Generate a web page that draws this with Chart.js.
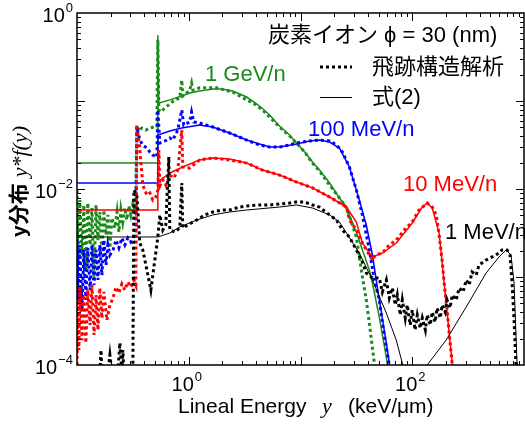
<!DOCTYPE html>
<html>
<head>
<meta charset="utf-8">
<script src="https://cdn.jsdelivr.net/npm/chart.js@4"></script>
<style>
  body { margin: 0; background: #fff; }
  #wrap { width: 525px; height: 427px; position: relative; }
</style>
</head>
<body>
<div id="wrap"><canvas id="chart"></canvas></div>
<script>
// 1 GeV/n
const gevFitX = [0.1, 0.529, 0.529, 0.54, 0.677, 0.866, 1.02, 1.25, 1.64, 1.97, 2.47, 3.30, 4.30, 5.29, 6.49, 7.98, 9.21, 10.9, 12.8, 14.8, 18.2, 22.3, 25.8, 27.4, 31.6, 35.8, 41.3, 44.0, 50.7, 58.6, 61.1];
const gevFitY = [0.0197, 0.0197, 0.562, 0.0949, 0.103, 0.114, 0.123, 0.130, 0.137, 0.137, 0.130, 0.111, 0.0877, 0.0693, 0.0520, 0.0411, 0.0333, 0.0263, 0.0203, 0.0164, 0.0117, 0.00791, 0.00624, 0.00507, 0.00325, 0.00203, 0.00120, 0.000855, 0.000351, 0.000123, 0.0000832];
const gevSimX = [0.1, 0.102, 0.106, 0.111, 0.115, 0.120, 0.125, 0.131, 0.136, 0.142, 0.148, 0.154, 0.160, 0.167, 0.174, 0.182, 0.189, 0.197, 0.205, 0.218, 0.228, 0.237, 0.247, 0.257, 0.268, 0.279, 0.291, 0.303, 0.316, 0.330, 0.336, 0.343, 0.358, 0.380, 0.413, 0.449, 0.487, 0.518, 0.529, 0.540, 0.562, 0.610, 0.677, 0.750, 0.831, 0.866, 0.884, 0.980, 1.02, 1.06, 1.09, 1.25, 1.54, 1.78, 2.10, 2.47, 2.85, 3.30, 3.88, 4.58, 5.29, 6.49, 7.98, 9.21, 10.9, 12.8, 14.8, 18.2, 22.3, 25.8, 28.5, 31.6, 35.8, 38.8, 41.3, 45.8, 46.7];
const gevSimY = [0.00975, 0.00137, 0.0075, 0.00178, 0.00658, 0.0012, 0.00693, 0.00231, 0.00608, 0.000925, 0.00658, 0.00263, 0.00548, 0.00178, 0.00577, 0.003, 0.00507, 0.00214, 0.00468, 0.00361, 0.00548, 0.00325, 0.00577, 0.00422, 0.00608, 0.00445, 0.00641, 0.00507, 0.00676, 0.00577, 0.0075, 0.0534, 0.0456, 0.0493, 0.0468, 0.0493, 0.0506, 0.0506, 0.493, 0.079, 0.075, 0.0832, 0.0925, 0.103, 0.108, 0.173, 0.114, 0.127, 0.133, 0.160, 0.133, 0.141, 0.141, 0.141, 0.133, 0.127, 0.114, 0.103, 0.0925, 0.079, 0.0658, 0.0506, 0.040, 0.0333, 0.0263, 0.0197, 0.016, 0.0111, 0.00791, 0.00608, 0.00422, 0.00285, 0.001, 0.000548, 0.0003, 0.000105, 0.0000832];

// 100 MeV/n
const mev100FitX = [0.1, 0.529, 0.529, 0.677, 0.866, 1.25, 1.64, 2.32, 3.30, 4.30, 5.29, 6.49, 9.21, 12.0, 14.8, 18.2, 22.3, 27.4, 31.6, 33.6, 38.8, 44.0, 50.7, 58.6, 62.3, 63.6];
const mev100FitY = [0.0117, 0.0117, 0.0411, 0.0456, 0.0493, 0.0534, 0.0506, 0.0433, 0.036, 0.0324, 0.03, 0.03, 0.0324, 0.0351, 0.036, 0.0342, 0.0292, 0.0178, 0.00975, 0.0075, 0.0039, 0.00178, 0.000548, 0.000178, 0.000105, 0.0000832];
const mev100SimX = [0.1, 0.102, 0.106, 0.111, 0.115, 0.120, 0.125, 0.131, 0.136, 0.142, 0.148, 0.154, 0.160, 0.167, 0.174, 0.182, 0.189, 0.197, 0.210, 0.223, 0.237, 0.252, 0.268, 0.285, 0.303, 0.323, 0.336, 0.343, 0.365, 0.388, 0.422, 0.449, 0.477, 0.518, 0.529, 0.551, 0.586, 0.637, 0.677, 0.720, 0.798, 0.866, 0.902, 1.02, 1.06, 1.11, 1.25, 1.64, 2.32, 3.30, 4.30, 5.29, 6.49, 7.98, 9.21, 12.0, 14.8, 18.2, 21.0, 23.7, 27.4, 31.6, 35.8, 41.3, 45.8, 50.7, 56.2, 62.3, 63.6];
const mev100SimY = [0.00263, 0.000548, 0.00231, 0.000422, 0.00203, 0.000548, 0.00214, 0.000711, 0.00231, 0.000811, 0.00203, 0.000925, 0.00231, 0.00105, 0.00263, 0.00137, 0.00231, 0.00178, 0.00203, 0.00263, 0.00214, 0.00277, 0.00231, 0.00277, 0.0025, 0.00292, 0.00342, 0.0506, 0.036, 0.0316, 0.0292, 0.0263, 0.0243, 0.0231, 0.079, 0.0333, 0.0342, 0.036, 0.038, 0.036, 0.0468, 0.079, 0.0534, 0.0577, 0.075, 0.0577, 0.0562, 0.0506, 0.0433, 0.036, 0.0316, 0.03, 0.03, 0.0316, 0.0333, 0.0351, 0.036, 0.0351, 0.0316, 0.0263, 0.0178, 0.00975, 0.00507, 0.00203, 0.000925, 0.000548, 0.000219, 0.0001, 0.0000832];

// 10 MeV/n
const mev10FitX = [0.1, 0.529, 0.529, 0.677, 0.884, 1.25, 1.64, 2.32, 3.30, 4.58, 6.49, 9.21, 12.8, 18.2, 25.8, 31.6, 35.8, 44.0, 54.0, 71.9, 100, 123, 136, 151, 174, 193, 214, 228, 232];
const mev10FitY = [0.00577, 0.00577, 0.012, 0.0152, 0.0178, 0.0214, 0.0225, 0.0219, 0.0197, 0.0164, 0.0144, 0.012, 0.0103, 0.00811, 0.00624, 0.00422, 0.00243, 0.00169, 0.00187, 0.00243, 0.00411, 0.00624, 0.00693, 0.00608, 0.00316, 0.000855, 0.000231, 0.000105, 0.0000832];
const mev10SimX = [0.1, 0.101, 0.104, 0.106, 0.111, 0.115, 0.120, 0.125, 0.131, 0.136, 0.142, 0.148, 0.154, 0.160, 0.167, 0.174, 0.185, 0.197, 0.210, 0.223, 0.237, 0.252, 0.268, 0.285, 0.303, 0.323, 0.336, 0.343, 0.365, 0.388, 0.422, 0.449, 0.477, 0.507, 0.529, 0.540, 0.551, 0.586, 0.623, 0.677, 0.735, 0.798, 0.866, 0.884, 1.02, 1.25, 1.64, 2.32, 3.30, 4.58, 6.49, 9.21, 12.8, 18.2, 25.8, 27.4, 31.6, 35.8, 41.3, 44.0, 46.7, 54.0, 62.3, 71.9, 84.8, 100, 115, 136, 151, 164, 174, 185, 193, 205, 214, 228, 232];
const mev10SimY = [0.0001, 0.000548, 0.000148, 0.000811, 0.000192, 0.000624, 0.000178, 0.000711, 0.000285, 0.000811, 0.000219, 0.000624, 0.00025, 0.00075, 0.000342, 0.000676, 0.000324, 0.000481, 0.000577, 0.000769, 0.000658, 0.000832, 0.000711, 0.000877, 0.000769, 0.000925, 0.000811, 0.0534, 0.0277, 0.0111, 0.00855, 0.00901, 0.0075, 0.00811, 0.00975, 0.0277, 0.0108, 0.0127, 0.0111, 0.0144, 0.0133, 0.0164, 0.0468, 0.0178, 0.0173, 0.0214, 0.0225, 0.0214, 0.0197, 0.0164, 0.0144, 0.012, 0.0103, 0.00811, 0.00624, 0.00445, 0.00342, 0.00243, 0.00178, 0.00156, 0.00178, 0.00187, 0.00231, 0.00263, 0.00342, 0.00422, 0.00577, 0.00693, 0.00624, 0.00507, 0.003, 0.00156, 0.000855, 0.000422, 0.000231, 0.0001, 0.0000832];

// 1 MeV/n
const mev1FitX = [0.1, 0.529, 0.677, 0.831, 1.18, 1.64, 2.32, 3.30, 6.49, 9.21, 12.8, 18.2, 22.3, 25.8, 33.6, 44.0, 58.6, 71.9, 81.5, 84.8, 100, 131, 136, 201, 304, 458, 598, 691, 765, 815, 866, 875];
const mev1FitY = [0.00285, 0.00285, 0.00316, 0.0037, 0.00445, 0.00507, 0.00548, 0.00577, 0.00624, 0.00658, 0.00608, 0.00507, 0.00422, 0.00316, 0.00187, 0.000925, 0.00039, 0.000192, 0.000105, 0.0000832, null, 0.0000832, 0.0001, 0.000192, 0.000456, 0.00111, 0.00169, 0.00203, 0.00178, 0.000855, 0.000105, 0.0000832];
const mev1SimX = [0.160, 0.164, 0.167, 0.189, 0.197, 0.205, 0.232, 0.242, 0.252, 0.257, 0.263, 0.316, 0.323, 0.343, 0.365, 0.388, 0.413, 0.440, 0.458, 0.477, 0.497, 0.518, 0.529, 0.551, 0.586, 0.623, 0.663, 0.677, 0.750, 0.831, 0.866, 0.884, 0.980, 1.18, 1.39, 1.64, 1.97, 2.32, 2.85, 3.30, 4.30, 5.29, 6.49, 7.98, 9.21, 10.9, 12.8, 14.8, 18.2, 21.0, 23.7, 27.4, 31.6, 35.8, 38.8, 44.0, 50.7, 54.0, 58.6, 62.3, 66.3, 70.5, 73.5, 78.2, 81.5, 86.6, 90.2, 95.9, 100, 106, 111, 118, 123, 131, 136, 145, 151, 160, 167, 178, 185, 197, 205, 218, 228, 247, 263, 285, 304, 323, 343, 373, 396, 458, 518, 598, 636, 705, 750, 782, 815, 849, 857];
const mev1SimY = [0.0000832, 0.000148, 0.0000832, 0.0000832, 0.00013, 0.0000832, 0.0000832, 0.000178, 0.0000832, 0.000148, 0.0000832, 0.0000832, 0.00975, 0.00855, 0.00243, 0.00203, 0.00137, 0.000925, 0.000711, 0.00105, 0.00156, 0.00231, 0.00285, 0.00507, 0.00342, 0.0039, 0.0231, 0.00342, 0.00325, 0.00361, 0.0117, 0.00361, 0.0039, 0.00445, 0.00507, 0.00548, 0.00577, 0.00577, 0.00624, 0.00641, 0.00658, 0.00658, 0.00676, 0.00693, 0.00712, 0.00712, 0.00658, 0.00624, 0.00507, 0.00445, 0.00342, 0.00285, 0.00203, 0.00148, 0.00111, 0.000975, 0.000975, 0.000676, 0.000925, 0.000577, 0.00075, 0.000481, 0.000624, 0.00037, 0.000548, 0.000342, 0.000481, 0.000285, 0.000422, 0.00025, 0.00037, 0.000263, 0.000342, 0.00025, 0.00037, 0.000285, 0.0004, 0.000308, 0.000445, 0.000342, 0.000481, 0.0004, 0.000548, 0.000445, 0.000624, 0.000548, 0.00075, 0.000676, 0.000925, 0.000811, 0.00114, 0.00105, 0.00137, 0.00156, 0.00169, 0.00187, 0.00203, 0.00203, 0.00178, 0.000855, 0.000324, 0.0000949, 0.0000832];

const xTickLabels = [1, 100];
const yTickLabels = [1, 0.01, 0.0001];

const green = '#1a8a1a';
const blue = '#0000ff';
const red = '#ff0000';
const black = '#000000';

const sans = '"Liberation Sans", Arial, "Noto Sans CJK JP", sans-serif';
const serif = '"Liberation Serif", "Times New Roman", serif';

function pts(xs, ys) {
  return xs.map((x, i) => ({ x: x, y: ys[i] }));
}

function simSet(xs, ys, color) {
  return { data: pts(xs, ys), borderColor: color, borderWidth: 3, borderDash: [3, 3],
    pointRadius: 0, fill: false, tension: 0, clip: 0 };
}
function fitSet(xs, ys, color, w) {
  return { data: pts(xs, ys), borderColor: color, borderWidth: w,
    pointRadius: 0, fill: false, tension: 0, clip: 0 };
}

function expLabel(ctx, exp, x, y, align) {
  ctx.font = '20px ' + sans;
  const wb = ctx.measureText('10').width;
  ctx.font = '13px ' + sans;
  const we = ctx.measureText(exp).width;
  const total = wb + we + 1;
  let x0 = x;
  if (align === 'right') x0 = x - total;
  if (align === 'center') x0 = x - total / 2;
  ctx.textAlign = 'left';
  ctx.textBaseline = 'middle';
  ctx.font = '20px ' + sans;
  ctx.fillText('10', x0, y);
  ctx.font = '13px ' + sans;
  ctx.fillText(exp, x0 + wb + 1, y - 8);
}

function expText(v) {
  const e = Math.round(Math.log10(v));
  return e < 0 ? '\u2212' + (-e) : String(e);
}

const framePlugin = {
  id: 'frame',
  afterDraw(chart) {
    const ctx = chart.ctx;
    const a = chart.chartArea;
    const sx = chart.scales.x;
    const sy = chart.scales.y;
    ctx.save();
    ctx.strokeStyle = '#000';
    ctx.fillStyle = '#000';
    ctx.lineWidth = 1.5;
    ctx.strokeRect(a.left, a.top, a.right - a.left, a.bottom - a.top);

    // inward ticks on all four sides
    ctx.lineWidth = 1;
    ctx.beginPath();
    for (let d = -1; d <= 3; d++) {
      for (let m = 1; m <= 9; m++) {
        const v = m * Math.pow(10, d);
        if (v <= sx.min || v >= sx.max) continue;
        const p = Math.round(sx.getPixelForValue(v)) + 0.5;
        const len = m === 1 ? 8 : 4;
        ctx.moveTo(p, a.bottom); ctx.lineTo(p, a.bottom - len);
        ctx.moveTo(p, a.top); ctx.lineTo(p, a.top + len);
      }
    }
    for (let d = -4; d <= 0; d++) {
      for (let m = 1; m <= 9; m++) {
        const v = m * Math.pow(10, d);
        if (v <= sy.min || v >= sy.max) continue;
        const p = Math.round(sy.getPixelForValue(v)) + 0.5;
        const len = m === 1 ? 8 : 4;
        ctx.moveTo(a.left, p); ctx.lineTo(a.left + len, p);
        ctx.moveTo(a.right, p); ctx.lineTo(a.right - len, p);
      }
    }
    ctx.stroke();

    // tick labels
    xTickLabels.forEach(v => {
      expLabel(ctx, expText(v), sx.getPixelForValue(v) - 2, a.bottom + 20, 'center');
    });
    yTickLabels.forEach(v => {
      expLabel(ctx, expText(v), 73, sy.getPixelForValue(v) + 3, 'right');
    });

    // x title
    ctx.textAlign = 'left';
    ctx.textBaseline = 'alphabetic';
    ctx.font = '21px ' + sans;
    ctx.fillText('Lineal Energy', 178, 413);
    ctx.font = 'italic 22px ' + serif;
    ctx.fillText('y', 322, 413);
    ctx.font = '21px ' + sans;
    ctx.fillText('(keV/\u03bcm)', 348, 413);

    // y title
    ctx.save();
    ctx.translate(20, 237);
    ctx.rotate(-Math.PI / 2);
    ctx.textBaseline = 'middle';
    ctx.font = 'bold 21px ' + sans;
    ctx.fillText('y分布', 0, 0);
    const wt = ctx.measureText('y分布').width;
    ctx.font = 'italic 22px ' + serif;
    ctx.fillText('y*f(y)', wt + 6, 1);
    ctx.restore();

    // legend
    ctx.textBaseline = 'middle';
    ctx.font = '22px ' + sans;
    ctx.fillText('炭素イオン ϕ = 30 (nm)', 268, 36);
    ctx.fillText('飛跡構造解析', 372, 68);
    ctx.fillText('式(2)', 372, 98);
    ctx.lineWidth = 3;
    ctx.setLineDash([3, 3]);
    ctx.beginPath(); ctx.moveTo(320, 67); ctx.lineTo(352, 67); ctx.stroke();
    ctx.setLineDash([]);
    ctx.lineWidth = 1;
    ctx.beginPath(); ctx.moveTo(320, 97.5); ctx.lineTo(352, 97.5); ctx.stroke();

    // curve labels
    ctx.font = '22px ' + sans;
    ctx.fillStyle = green; ctx.fillText('1 GeV/n', 205, 75);
    ctx.fillStyle = blue; ctx.fillText('100 MeV/n', 308, 130);
    ctx.fillStyle = red; ctx.fillText('10 MeV/n', 403, 185);
    ctx.fillStyle = black; ctx.fillText('1 MeV/n', 445, 233);
    ctx.restore();
  }
};

new Chart(document.getElementById('chart'), {
  type: 'line',
  data: {
    datasets: [
      simSet(mev1SimX, mev1SimY, black),
      fitSet(mev1FitX, mev1FitY, black, 1),
      simSet(mev10SimX, mev10SimY, red),
      fitSet(mev10FitX, mev10FitY, red, 1.5),
      simSet(mev100SimX, mev100SimY, blue),
      fitSet(mev100FitX, mev100FitY, blue, 1.5),
      simSet(gevSimX, gevSimY, green),
      fitSet(gevFitX, gevFitY, green, 1.5),
    ],
  },
  options: {
    responsive: true,
    maintainAspectRatio: false,
    animation: false,
    layout: { padding: { left: 77, right: 1, top: 13, bottom: 62 } },
    scales: {
      x: { type: 'logarithmic', min: 0.1, max: 1000, display: false },
      y: { type: 'logarithmic', min: 0.0001, max: 1, display: false },
    },
    plugins: {
      legend: { display: false },
      tooltip: { enabled: false },
    },
  },
  plugins: [framePlugin],
});
</script>
</body>
</html>
